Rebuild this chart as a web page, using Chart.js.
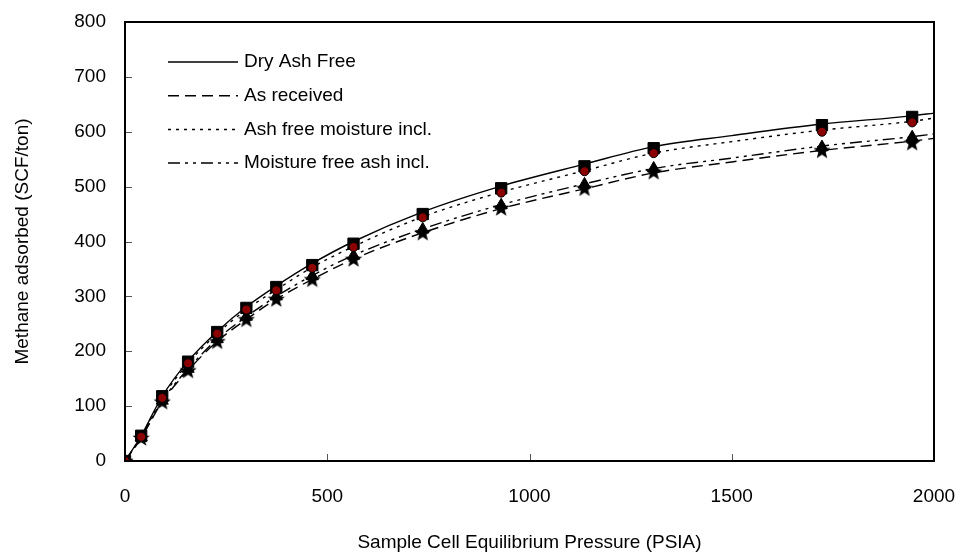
<!DOCTYPE html>
<html>
<head>
<meta charset="utf-8">
<title>Methane adsorption</title>
<script src="https://cdn.jsdelivr.net/npm/chart.js@4.4.1/dist/chart.umd.min.js"></script>
<style>
    html, body { margin: 0; padding: 0; background: #fff; }
    #wrap { width: 962px; height: 555px; }
</style>
</head>
<body>
<div id="wrap"><canvas id="myChartIsotherm"></canvas></div>
<script>
// measured points
const pressure = [0, 40, 92, 156, 228, 300, 374, 463, 565, 736, 930, 1136, 1307, 1723, 1946];
const dryAshFree = [0, 46, 118, 181, 235, 279, 317, 357, 396, 450, 497, 537, 570, 612, 627];
const ashFreeMoist = [0, 44, 115, 178, 232, 276, 311, 352, 390, 444, 489, 528, 561, 600, 617];
const moistFreeAsh = [0, 43, 110, 168, 222, 263, 300, 337, 374, 422, 466, 504, 533, 572, 590];
const asReceived = [0, 42, 108, 165, 218, 258, 295, 331, 368, 416, 461, 497, 527, 566, 580];

// fitted curves
const linePressure = [0, 40, 92, 156, 228, 300, 374, 463, 565, 736, 930, 1136, 1307, 1500, 1723, 1946, 2000];
const lineDry = [0, 46, 118, 182, 236, 281, 319, 360, 400, 454, 501, 541, 573, 593, 614, 629, 634];
const lineAshFreeMoist = [0, 44, 115, 178, 232, 276, 312, 353, 391, 445, 490, 529, 561, 582, 603, 619, 625];
const lineMoistFreeAsh = [0, 43, 110, 168, 222, 263, 300, 338, 375, 423, 467, 505, 533, 552, 574, 591, 596];
const lineAsReceived = [0, 42, 108, 165, 218, 258, 295, 331, 368, 416, 460, 496, 525, 545, 566, 583, 588];

const xTicks = [0, 500, 1000, 1500, 2000];
const yTicks = [0, 100, 200, 300, 400, 500, 600, 700, 800];

const FONT = "'Liberation Sans', Arial, sans-serif";

const pts = (xs, ys) => xs.map((x, i) => ({ x: x, y: ys[i] }));

// filled five point star for the "as received" points
const starImg = document.createElement("canvas");
starImg.width = 20;
starImg.height = 20;
(function () {
    const c = starImg.getContext("2d");
    c.beginPath();
    for (let i = 0; i < 10; i++) {
        const r = i % 2 === 0 ? 9 : 3.8;
        const a = -Math.PI / 2 + (i * Math.PI) / 5;
        const px = 10 + r * Math.cos(a);
        const py = 10.5 + r * Math.sin(a);
        if (i === 0) c.moveTo(px, py);
        else c.lineTo(px, py);
    }
    c.closePath();
    c.fillStyle = "#000";
    c.fill();
})();

const lineSet = (label, ys, dash) => ({
    label: label,
    data: pts(linePressure, ys),
    borderColor: "#000",
    borderWidth: 1.4,
    borderDash: dash,
    pointRadius: 0,
    showLine: true,
    fill: false,
    tension: 0.4,
    cubicInterpolationMode: "monotone",
});

const markerSet = (ys, style, radius, bg) => ({
    data: pts(pressure, ys),
    showLine: false,
    pointStyle: style,
    pointRadius: radius,
    pointBackgroundColor: bg,
    pointBorderColor: "#000",
    pointBorderWidth: 1,
});

// legend inside the plot, top left
const curveLegend = {
    id: "curveLegend",
    afterDraw(chart) {
        const ctx = chart.ctx;
        const rows = [
            ["Dry Ash Free", []],
            ["As received", [11, 6]],
            ["Ash free moisture incl.", [3, 5]],
            ["Moisture free ash incl.", [12, 5, 3, 5, 3, 5]],
        ];
        ctx.save();
        ctx.font = "19px " + FONT;
        ctx.textBaseline = "middle";
        ctx.fillStyle = "#000";
        rows.forEach((r, i) => {
            const y = 62 + i * 33.7;
            ctx.beginPath();
            ctx.setLineDash(r[1]);
            ctx.lineWidth = 1.5;
            ctx.strokeStyle = "#000";
            ctx.moveTo(168, y);
            ctx.lineTo(238, y);
            ctx.stroke();
            ctx.setLineDash([]);
            ctx.fillText(r[0], 244, y);
        });
        ctx.restore();
    },
};

// box round the plot and short inward ticks
const plotFrame = {
    id: "plotFrame",
    afterDraw(chart) {
        const { ctx, chartArea: a, scales } = chart;
        ctx.save();
        ctx.strokeStyle = "#555";
        ctx.lineWidth = 1;
        ctx.beginPath();
        xTicks.forEach((v) => {
            const px = Math.round(scales.x.getPixelForValue(v)) + 0.5;
            ctx.moveTo(px, a.bottom);
            ctx.lineTo(px, a.bottom - 7);
        });
        yTicks.forEach((v) => {
            const py = Math.round(scales.y.getPixelForValue(v)) + 0.5;
            ctx.moveTo(a.left, py);
            ctx.lineTo(a.left + 7, py);
        });
        ctx.stroke();
        ctx.strokeStyle = "#000";
        ctx.lineWidth = 2;
        ctx.strokeRect(a.left, a.top, a.right - a.left, a.bottom - a.top);
        ctx.restore();
    },
};

const ctx = document.getElementById("myChartIsotherm");
new Chart(ctx, {
    type: "scatter",
    data: {
        datasets: [
            markerSet(ashFreeMoist, "circle", 4.5, "#8b0000"),
            markerSet(dryAshFree, "rect", 8, "#000"),
            markerSet(moistFreeAsh, "triangle", 7, "#000"),
            {
                data: pts(pressure, asReceived),
                showLine: false,
                pointStyle: starImg,
            },
            lineSet("Dry Ash Free", lineDry, []),
            lineSet("As received", lineAsReceived, [11, 6]),
            lineSet("Ash free moisture incl.", lineAshFreeMoist, [3, 5]),
            lineSet("Moisture free ash incl.", lineMoistFreeAsh, [12, 5, 3, 5, 3, 5]),
        ],
    },
    options: {
        responsive: true,
        maintainAspectRatio: false,
        animation: false,
        events: [],
        layout: { padding: { top: 22, right: 28, bottom: 0, left: 0 } },
        plugins: {
            legend: { display: false },
            tooltip: { enabled: false },
        },
        scales: {
            x: {
                type: "linear",
                min: 0,
                max: 2000,
                afterFit: (s) => {
                    s.height = 94;
                    s.paddingLeft = 0;
                    s.paddingRight = 0;
                },
                afterBuildTicks: (s) => { s.ticks = xTicks.map((v) => ({ value: v })); },
                grid: { display: false, drawTicks: false },
                border: { display: false },
                ticks: {
                    padding: 24,
                    color: "#000",
                    font: { family: FONT, size: 19 },
                    callback: (v) => String(v),
                },
                title: {
                    display: true,
                    text: "Sample Cell Equilibrium Pressure (PSIA)",
                    color: "#000",
                    font: { family: FONT, size: 19 },
                    padding: { top: 0, bottom: 1 },
                },
            },
            y: {
                type: "linear",
                min: 0,
                max: 800,
                afterFit: (s) => {
                    s.width = 125;
                    s.paddingTop = 0;
                    s.paddingBottom = 0;
                },
                afterBuildTicks: (s) => { s.ticks = yTicks.map((v) => ({ value: v })); },
                grid: { display: false, drawTicks: false },
                border: { display: false },
                ticks: {
                    padding: 19,
                    color: "#000",
                    font: { family: FONT, size: 19 },
                    callback: (v) => String(v),
                },
                title: {
                    display: true,
                    text: "Methane adsorbed (SCF/ton)",
                    color: "#000",
                    font: { family: FONT, size: 19 },
                    padding: { top: 11, bottom: 0 },
                },
            },
        },
    },
    plugins: [plotFrame, curveLegend],
});
</script>
</body>
</html>
